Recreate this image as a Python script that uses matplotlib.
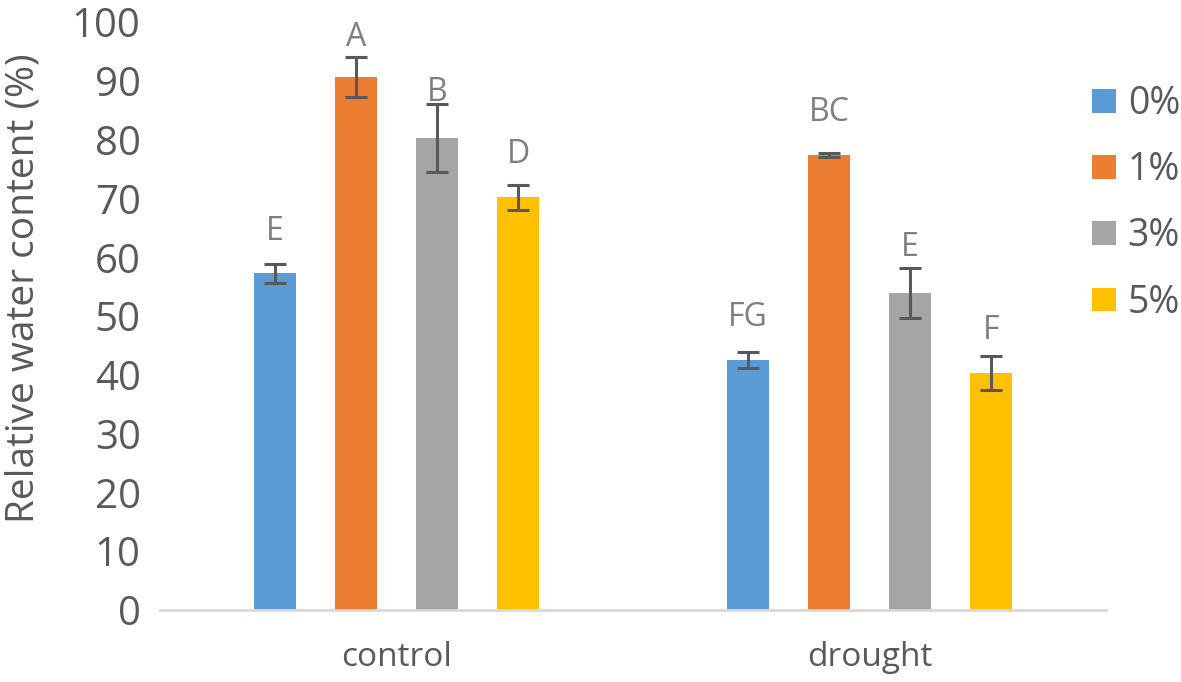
import numpy as np
import matplotlib
matplotlib.use("Agg")
import matplotlib.pyplot as plt
from matplotlib.patches import Patch

plt.rcParams['font.family'] = ['Open Sans', 'DejaVu Sans']

groups = ['control', 'drought']
doses = ['0%', '1%', '3%', '5%']
colors = ['#5B9BD5', '#ED7D31', '#A5A5A5', '#FFC000']

# mean relative water content per dose, [control, drought]
means = {
    '0%': [57.3, 42.5],
    '1%': [90.6, 77.4],
    '3%': [80.3, 53.9],
    '5%': [70.2, 40.3],
}
errs = {
    '0%': [1.6, 1.3],
    '1%': [3.4, 0.3],
    '3%': [5.8, 4.2],
    '5%': [2.1, 2.9],
}
letters = {
    '0%': ['E', 'FG'],
    '1%': ['A', 'BC'],
    '3%': ['B', 'E'],
    '5%': ['D', 'F'],
}
letter_y = {
    '0%': [64.3, 49.7],
    '1%': [97.4, 84.7],
    '3%': [88.1, 61.7],
    '5%': [77.4, 47.6],
}

txt = '#595959'

fig = plt.figure(figsize=(11.81, 6.82), dpi=100)
ax = fig.add_axes([0.1355, 0.1056, 0.801, 0.862])

x = np.arange(len(groups))
step = 0.1716
width = 0.089
for i, d in enumerate(doses):
    pos = x + (i - 1.5) * step
    ax.bar(pos, means[d], width, color=colors[i], zorder=2)
    ax.errorbar(pos, means[d], yerr=errs[d], fmt='none', ecolor=txt,
                elinewidth=2.2, capsize=8, capthick=2.2, zorder=3)
    for p, lab, ly in zip(pos, letters[d], letter_y[d]):
        ax.text(p, ly, lab, ha='center', va='center', fontsize=23,
                color='#7F7F7F', zorder=4)

ax.set_xlim(-0.5, 1.5)
ax.set_ylim(0, 100)
ax.set_yticks(range(0, 101, 10))
ax.set_xticks(x)
ax.set_xticklabels(groups, fontsize=24, color=txt)
ax.tick_params(axis='y', length=0, pad=14, labelsize=29, labelcolor=txt)
ax.tick_params(axis='x', length=0, pad=22)
for s in ['top', 'right', 'left']:
    ax.spines[s].set_visible(False)
ax.spines['bottom'].set_color('#D9D9D9')
ax.spines['bottom'].set_linewidth(2)
ax.set_ylabel('Relative water content (%)', fontsize=28, color=txt)
ax.yaxis.set_label_coords(-0.124, 0.548)

handles = [Patch(facecolor=c, edgecolor='none') for c in colors]
fig.legend(handles, doses, loc='upper left', bbox_to_anchor=(0.925, 0.875),
           frameon=False, fontsize=27, labelcolor=txt, handlelength=0.64,
           handleheight=0.6, handletextpad=0.3, labelspacing=0.75,
           borderpad=0, borderaxespad=0)

fig.savefig('out.png', dpi=100)
